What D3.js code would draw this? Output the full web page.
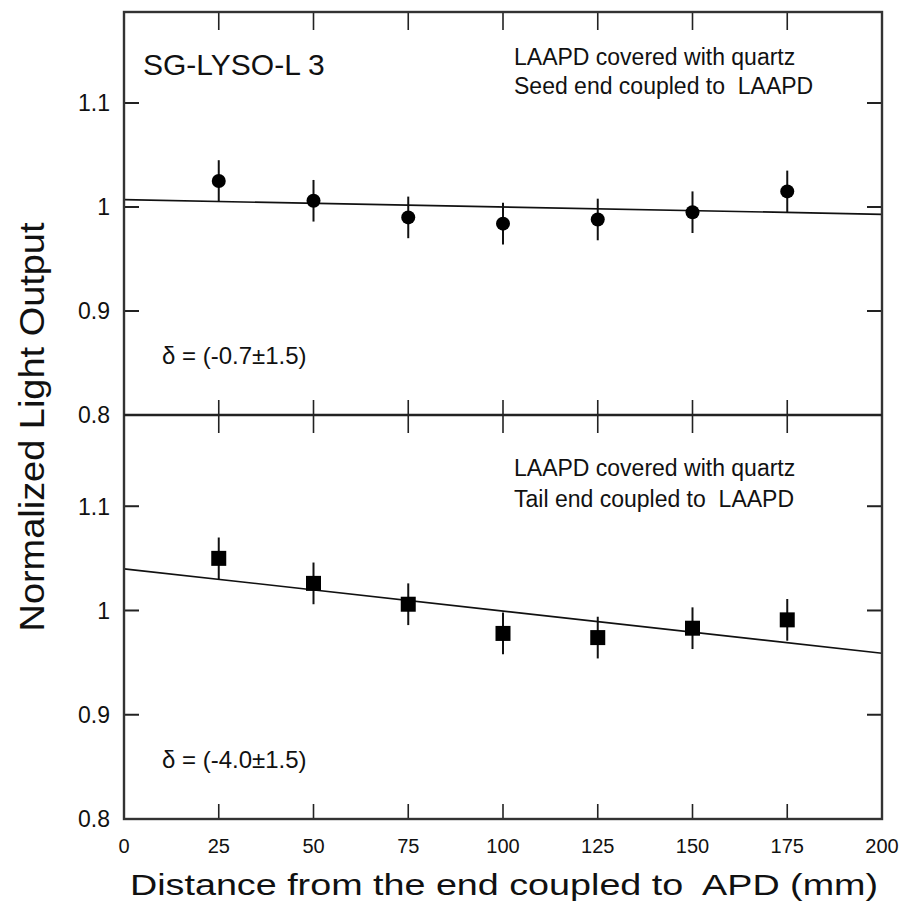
<!DOCTYPE html>
<html>
<head>
<meta charset="utf-8">
<script src="https://cdn.jsdelivr.net/npm/d3@7"></script>
<style>
  body { margin: 0; background: #fff; }
  text { font-family: "Liberation Sans", Arial, sans-serif; fill: #111; }
</style>
</head>
<body>
<script>
// data
var distances = [25, 50, 75, 100, 125, 150, 175];
var seedValues = [1.025, 1.006, 0.990, 0.984, 0.988, 0.995, 1.015]; // top panel, circles
var tailValues = [1.050, 1.026, 1.006, 0.978, 0.974, 0.983, 0.991]; // bottom panel, squares
var errBar = 0.02;
var seedFit = [[0, 1.007], [200, 0.993]];
var tailFit = [[0, 1.040], [200, 0.959]];
var xTicks = [0, 25, 50, 75, 100, 125, 150, 175, 200];
var yTicks = [0.8, 0.9, 1.0, 1.1];
var yLabels = ["0.8", "0.9", "1", "1.1"];

var svg_width = 904, svg_height = 916;
//plot box edges (note: "top" is reserved on window, so use pTop)
var pLeft = 124, pRight = 882, pTop = 12, pMid = 415, pBottom = 819;

var svg = d3.select("body").append("svg")
    .attr("width", svg_width)
    .attr("height", svg_height);

var x = d3.scaleLinear().domain([0, 200]).range([pLeft, pRight]);
var yTop = d3.scaleLinear().domain([0.8, 1.1875]).range([pMid, pTop]);
var yBot = d3.scaleLinear().domain([0.8, 1.1875]).range([pBottom, pMid]);

var ink = "#222";

//draws one panel: frame ticks, tick labels, fit line, points with error bars
function panel(y, values, fit, shape, y0, y1) {
  var g = svg.append("g");

  // y ticks, left and right, pointing inward
  g.selectAll(".yl").data(yTicks).enter().append("line")
      .attr("x1", pLeft).attr("x2", pLeft + 15)
      .attr("y1", function(d) { return y(d); }).attr("y2", function(d) { return y(d); })
      .attr("stroke", ink).attr("stroke-width", 2);
  g.selectAll(".yr").data(yTicks).enter().append("line")
      .attr("x1", pRight - 15).attr("x2", pRight)
      .attr("y1", function(d) { return y(d); }).attr("y2", function(d) { return y(d); })
      .attr("stroke", ink).attr("stroke-width", 2);

  // x ticks on top edge (down) and bottom edge (up)
  g.selectAll(".xt").data(xTicks.slice(1, -1)).enter().append("line")
      .attr("x1", function(d) { return x(d); }).attr("x2", function(d) { return x(d); })
      .attr("y1", y1).attr("y2", y1 + 18)
      .attr("stroke", ink).attr("stroke-width", 1.6);
  g.selectAll(".xb").data(xTicks.slice(1, -1)).enter().append("line")
      .attr("x1", function(d) { return x(d); }).attr("x2", function(d) { return x(d); })
      .attr("y1", y0).attr("y2", y0 - 15)
      .attr("stroke", ink).attr("stroke-width", 1.6);

  g.selectAll(".ylab").data(yTicks).enter().append("text")
      .attr("x", 110)
      .attr("y", function(d) { return y(d); })
      .attr("dy", "0.36em")
      .attr("text-anchor", "end")
      .style("font-size", "23px")
      .text(function(d, i) { return yLabels[i]; });

  // fit line
  var line = d3.line()
      .x(function(d) { return x(d[0]); })
      .y(function(d) { return y(d[1]); });
  g.append("path").datum(fit)
      .attr("d", line)
      .attr("fill", "none").attr("stroke", "#111").attr("stroke-width", 1.7);

  // error bars
  g.selectAll(".err").data(values).enter().append("line")
      .attr("x1", function(d, i) { return x(distances[i]); })
      .attr("x2", function(d, i) { return x(distances[i]); })
      .attr("y1", function(d) { return y(d - errBar); })
      .attr("y2", function(d) { return y(d + errBar); })
      .attr("stroke", "#111").attr("stroke-width", 2);

  if (shape == "circle") {
    g.selectAll(".pt").data(values).enter().append("circle")
        .attr("cx", function(d, i) { return x(distances[i]); })
        .attr("cy", function(d) { return y(d); })
        .attr("r", 7)
        .attr("fill", "#000");
  } else {
    g.selectAll(".pt").data(values).enter().append("rect")
        .attr("x", function(d, i) { return x(distances[i]) - 7.5; })
        .attr("y", function(d) { return y(d) - 7.5; })
        .attr("width", 15).attr("height", 15)
        .attr("fill", "#000");
  }
  return g;
}

var gTop = panel(yTop, seedValues, seedFit, "circle", pMid, pTop);
var gBot = panel(yBot, tailValues, tailFit, "square", pBottom, pMid);

// frames
svg.append("rect")
    .attr("x", pLeft).attr("y", pTop)
    .attr("width", pRight - pLeft).attr("height", pBottom - pTop)
    .attr("fill", "none").attr("stroke", "#333").attr("stroke-width", 2.4);
svg.append("line")
    .attr("x1", pLeft).attr("x2", pRight).attr("y1", pMid).attr("y2", pMid)
    .attr("stroke", "#222").attr("stroke-width", 2.4);

// x tick labels
svg.selectAll(".xlab").data(xTicks).enter().append("text")
    .attr("x", function(d) { return x(d); })
    .attr("y", pBottom + 34)
    .attr("text-anchor", "middle")
    .style("font-size", "20px")
    .text(function(d) { return d; });

// annotations
gTop.append("text").attr("x", 143).attr("y", 75)
    .style("font-size", "30px").text("SG-LYSO-L 3");
gTop.append("text").attr("x", 514).attr("y", 65)
    .style("font-size", "23px").text("LAAPD covered with quartz");
gTop.append("text").attr("x", 514).attr("y", 94)
    .style("font-size", "23px").style("white-space", "pre").text("Seed end coupled to  LAAPD");
gTop.append("text").attr("x", 162).attr("y", 364)
    .style("font-size", "24px").text("\u03b4 = (-0.7\u00b11.5)");

gBot.append("text").attr("x", 514).attr("y", 476)
    .style("font-size", "23px").text("LAAPD covered with quartz");
gBot.append("text").attr("x", 514).attr("y", 507)
    .style("font-size", "23px").style("white-space", "pre").text("Tail end coupled to  LAAPD");
gBot.append("text").attr("x", 162).attr("y", 768)
    .style("font-size", "24px").text("\u03b4 = (-4.0\u00b11.5)");

// axis titles
svg.append("text")
    .attr("x", 504).attr("y", 895)
    .attr("text-anchor", "middle")
    .attr("textLength", 748).attr("lengthAdjust", "spacingAndGlyphs")
    .style("font-size", "30px").style("white-space", "pre")
    .text("Distance from the end coupled to  APD (mm)");
svg.append("text")
    .attr("transform", "translate(44,427) rotate(-90)")
    .attr("text-anchor", "middle")
    .attr("textLength", 409).attr("lengthAdjust", "spacingAndGlyphs")
    .style("font-size", "35px")
    .text("Normalized Light Output");
</script>
</body>
</html>
